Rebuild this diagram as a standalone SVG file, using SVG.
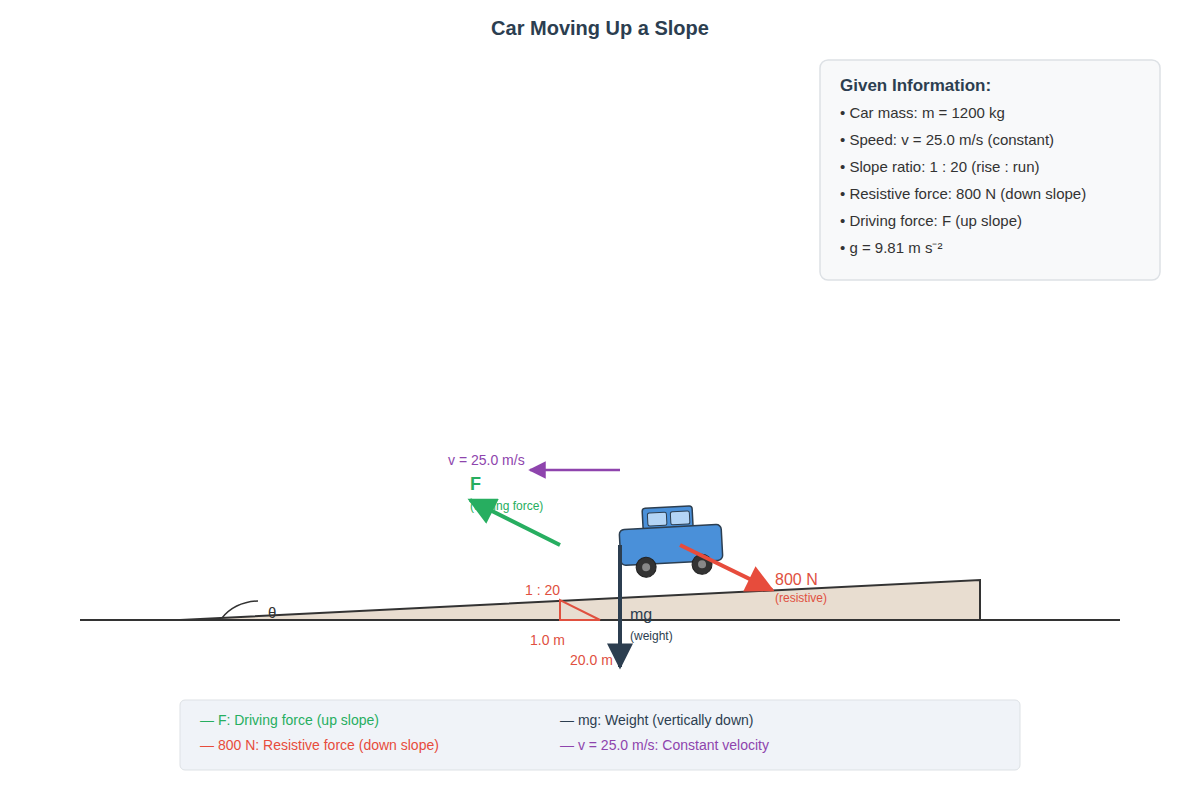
<svg xmlns="http://www.w3.org/2000/svg" width="1200" height="800" viewBox="0 0 1200 800">
<defs>
<style>
text{font-family:"Liberation Sans",Arial,sans-serif}
.info{font-size:15px;fill:#333}
.red{fill:#e0503f}
</style>
<marker id="ag" viewBox="0 0 10 10" refX="9" refY="5" markerWidth="8" markerHeight="7" orient="auto"><path d="M0,0L10,5L0,10z" fill="#27ae60"/></marker>
<marker id="ar" viewBox="0 0 10 10" refX="9" refY="5" markerWidth="8" markerHeight="7" orient="auto"><path d="M0,0L10,5L0,10z" fill="#e74c3c"/></marker>
<marker id="ad" viewBox="0 0 10 10" refX="9" refY="5" markerWidth="8" markerHeight="6.5" orient="auto"><path d="M0,0L10,5L0,10z" fill="#2c3e50"/></marker>
<marker id="ap" viewBox="0 0 10 10" refX="9" refY="5" markerWidth="10" markerHeight="7" orient="auto"><path d="M0,0L10,5L0,10z" fill="#8e44ad"/></marker>
</defs>
<rect width="1200" height="800" fill="#fff"/>
<text x="600" y="35" text-anchor="middle" font-size="20" font-weight="bold" fill="#2c3e50">Car Moving Up a Slope</text>
<g id="info">
<rect x="820" y="60" width="340" height="220" rx="8" fill="#f8f9fa" stroke="#dde1e5" stroke-width="1.5"/>
<text x="840" y="91" font-size="17" font-weight="bold" fill="#2c3e50">Given Information:</text>
<text class="info" x="840" y="118">• Car mass: m = 1200 kg</text>
<text class="info" x="840" y="145">• Speed: v = 25.0 m/s (constant)</text>
<text class="info" x="840" y="172">• Slope ratio: 1 : 20 (rise : run)</text>
<text class="info" x="840" y="199">• Resistive force: 800 N (down slope)</text>
<text class="info" x="840" y="226">• Driving force: F (up slope)</text>
<text class="info" x="840" y="253">• g = 9.81 m s⁻²</text>
</g>
<g id="slope">
<polygon points="180,620 980,580 980,620" fill="#e8ddd0"/>
<line x1="80" y1="620" x2="1120" y2="620" stroke="#333" stroke-width="2"/>
<path d="M180,620 L980,580 L980,620" fill="none" stroke="#333" stroke-width="2"/>
<path d="M222,618 Q235,602 258,601" fill="none" stroke="#333" stroke-width="1.5"/>
<text x="268" y="618" font-size="15" fill="#333">θ</text>
<polygon points="560,600 560,620 600,620" fill="none" stroke="#e0503f" stroke-width="2"/>
<text class="red" x="525" y="595" font-size="14">1 : 20</text>
<text class="red" x="530" y="645" font-size="14">1.0 m</text>
<text class="red" x="570" y="665" font-size="14">20.0 m</text>
</g>
<g id="car" transform="rotate(-3 670 545)">
<rect x="644" y="507" width="50" height="22" rx="3" fill="#4a90d9" stroke="#2c3e50" stroke-width="1.5"/>
<rect x="649" y="512" width="19" height="13" rx="2" fill="#b3d4f5" stroke="#2c3e50" stroke-width="1"/>
<rect x="672" y="512" width="19" height="13" rx="2" fill="#b3d4f5" stroke="#2c3e50" stroke-width="1"/>
<rect x="620" y="527" width="102" height="36" rx="5" fill="#4a90d9" stroke="#2c3e50" stroke-width="1.5"/>
<circle cx="645" cy="566" r="10" fill="#333" stroke="#222"/>
<circle cx="645" cy="566" r="4" fill="#888"/>
<circle cx="701" cy="566" r="10" fill="#333" stroke="#222"/>
<circle cx="701" cy="566" r="4" fill="#888"/>
</g>
<g id="connectors">
<line x1="620" y1="470" x2="530" y2="470" stroke="#8e44ad" stroke-width="2.5" marker-end="url(#ap)"/>
<line x1="560" y1="545" x2="470" y2="500" stroke="#27ae60" stroke-width="4" marker-end="url(#ag)"/>
<line x1="680" y1="545" x2="772" y2="590" stroke="#e74c3c" stroke-width="4" marker-end="url(#ar)"/>
<line x1="620" y1="545" x2="620" y2="667" stroke="#2c3e50" stroke-width="4" marker-end="url(#ad)"/>
</g>
<g id="labels">
<text x="448" y="465" font-size="14" fill="#8e44ad">v = 25.0 m/s</text>
<text x="470" y="490" font-size="18" font-weight="bold" fill="#27ae60">F</text>
<text x="470" y="510" font-size="12" fill="#27ae60">(driving force)</text>
<text class="red" x="775" y="585" font-size="16">800 N</text>
<text class="red" x="775" y="602" font-size="12">(resistive)</text>
<text x="630" y="620" font-size="16" fill="#2c3e50">mg</text>
<text x="630" y="640" font-size="12" fill="#2c3e50">(weight)</text>
</g>
<g id="legend">
<rect x="180" y="700" width="840" height="70" rx="5" fill="#f0f3f8" stroke="#dde1e5"/>
<text x="200" y="725" font-size="14" fill="#27ae60">— F: Driving force (up slope)</text>
<text x="200" y="750" font-size="14" fill="#e74c3c">— 800 N: Resistive force (down slope)</text>
<text x="560" y="725" font-size="14" fill="#2c3e50">— mg: Weight (vertically down)</text>
<text x="560" y="750" font-size="14" fill="#8e44ad">— v = 25.0 m/s: Constant velocity</text>
</g>
</svg>
